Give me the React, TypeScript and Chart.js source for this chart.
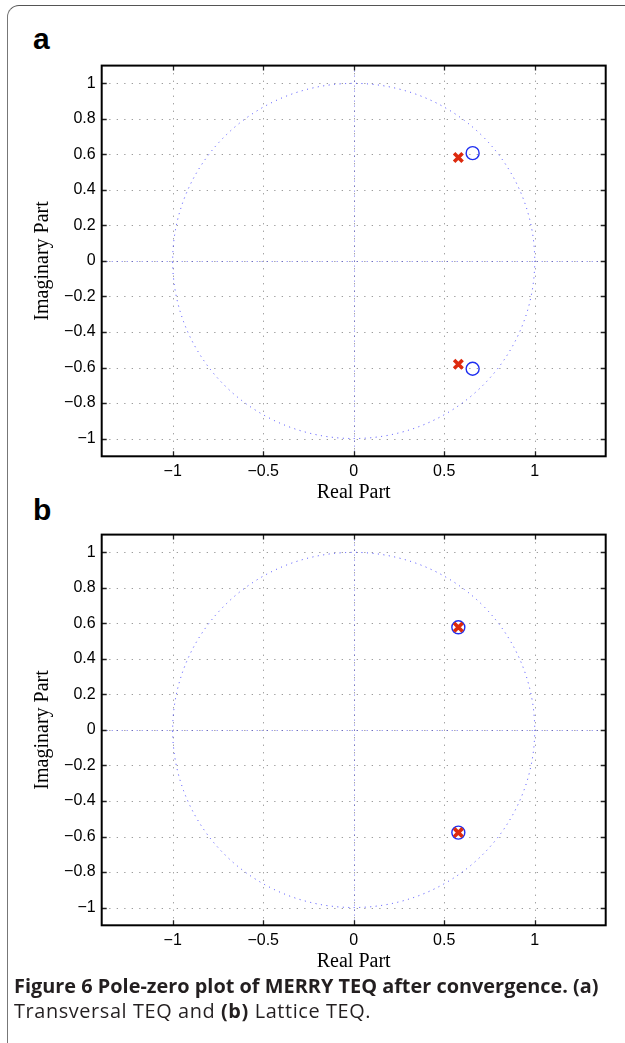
import React, { useEffect, useRef } from "react";
import { Chart, registerables } from "chart.js";

Chart.register(...registerables);

// ---- data ----
const xTickValues = [-1, -0.5, 0, 0.5, 1];
const xTickLabels = ["\u22121", "\u22120.5", "0", "0.5", "1"];
const yTickValues = [-1, -0.8, -0.6, -0.4, -0.2, 0, 0.2, 0.4, 0.6, 0.8, 1];
const yTickLabels = ["\u22121", "\u22120.8", "\u22120.6", "\u22120.4", "\u22120.2", "0", "0.2", "0.4", "0.6", "0.8", "1"];
const xLimits = [-1.392, 1.392];
const yLimits = [-1.1, 1.1];
const unitCircleRadius = 1;

// panel (a): transversal TEQ
const polesARe = [0.578, 0.578];
const polesAIm = [0.582, -0.582];
const zerosARe = [0.657, 0.657];
const zerosAIm = [0.607, -0.607];

// panel (b): lattice TEQ
const polesBRe = [0.578, 0.578];
const polesBIm = [0.578, -0.578];
const zerosBRe = [0.578, 0.578];
const zerosBIm = [0.578, -0.578];

const xTitle = "Real Part";
const yTitle = "Imaginary Part";

function labelFor(values: number[], labels: string[], v: number) {
  const i = values.findIndex((t) => Math.abs(t - v) < 1e-9);
  return i >= 0 ? labels[i] : "";
}

const pzPlugin = {
  id: "pzDecor",
  beforeDatasetsDraw(chart: any) {
    const { ctx, chartArea: a, scales } = chart;
    const x = scales.x;
    const y = scales.y;
    ctx.save();
    ctx.beginPath();
    ctx.rect(a.left, a.top, a.right - a.left, a.bottom - a.top);
    ctx.clip();
    // grid
    ctx.strokeStyle = "#9c9c9c";
    ctx.lineWidth = 1;
    ctx.setLineDash([1.3, 6.2]);
    for (const t of x.ticks) {
      const px = Math.round(x.getPixelForValue(t.value)) + 0.5;
      ctx.beginPath();
      ctx.moveTo(px, a.top);
      ctx.lineTo(px, a.bottom);
      ctx.stroke();
    }
    for (const t of y.ticks) {
      const py = Math.round(y.getPixelForValue(t.value)) + 0.5;
      ctx.beginPath();
      ctx.moveTo(a.left, py);
      ctx.lineTo(a.right, py);
      ctx.stroke();
    }
    // zero axes lines
    ctx.strokeStyle = "rgba(60,60,230,0.7)";
    ctx.setLineDash([1, 4]);
    const x0 = Math.round(x.getPixelForValue(0)) + 0.5;
    const y0 = Math.round(y.getPixelForValue(0)) + 0.5;
    ctx.beginPath();
    ctx.moveTo(x0, a.top);
    ctx.lineTo(x0, a.bottom);
    ctx.stroke();
    ctx.beginPath();
    ctx.moveTo(a.left, y0);
    ctx.lineTo(a.right, y0);
    ctx.stroke();
    // unit circle
    const cx = x.getPixelForValue(0);
    const cy = y.getPixelForValue(0);
    const rx = x.getPixelForValue(unitCircleRadius) - cx;
    const ry = cy - y.getPixelForValue(unitCircleRadius);
    ctx.strokeStyle = "rgba(40,40,255,0.85)";
    ctx.setLineDash([1, 4.5]);
    ctx.beginPath();
    ctx.ellipse(cx, cy, rx, ry, 0, 0, Math.PI * 2);
    ctx.stroke();
    ctx.restore();
  },
  afterDraw(chart: any) {
    const { ctx, chartArea: a, scales } = chart;
    const x = scales.x;
    const y = scales.y;
    ctx.save();
    ctx.setLineDash([]);
    ctx.strokeStyle = "#222";
    ctx.lineWidth = 1.3;
    const tl = 5;
    for (const t of x.ticks) {
      const px = Math.round(x.getPixelForValue(t.value)) + 0.5;
      ctx.beginPath();
      ctx.moveTo(px, a.bottom);
      ctx.lineTo(px, a.bottom - tl);
      ctx.moveTo(px, a.top);
      ctx.lineTo(px, a.top + tl);
      ctx.stroke();
    }
    for (const t of y.ticks) {
      const py = Math.round(y.getPixelForValue(t.value)) + 0.5;
      ctx.beginPath();
      ctx.moveTo(a.left, py);
      ctx.lineTo(a.left + tl, py);
      ctx.moveTo(a.right, py);
      ctx.lineTo(a.right - tl, py);
      ctx.stroke();
    }
    ctx.strokeStyle = "#000";
    ctx.lineWidth = 2;
    ctx.strokeRect(a.left, a.top, a.right - a.left, a.bottom - a.top);
    ctx.restore();
  },
};

function PZChart(props: {
  polesRe: number[];
  polesIm: number[];
  zerosRe: number[];
  zerosIm: number[];
  top: number;
}) {
  const ref = useRef<HTMLCanvasElement | null>(null);
  useEffect(() => {
    if (!ref.current) return;
    const poles = props.polesRe.map((r, i) => ({ x: r, y: props.polesIm[i] }));
    const zeros = props.zerosRe.map((r, i) => ({ x: r, y: props.zerosIm[i] }));
    const tickFont = { family: "'Liberation Sans', Arial, sans-serif", size: 16 };
    const titleFont = { family: "'Liberation Serif', 'Times New Roman', serif", size: 20 };
    const chart = new Chart(ref.current, {
      type: "scatter",
      data: {
        datasets: [
          {
            label: "Poles",
            data: poles,
            pointStyle: "crossRot",
            pointRadius: 6,
            borderColor: "#dd2a0e",
            borderWidth: 3.6,
            backgroundColor: "#dd2a0e",
          },
          {
            label: "Zeros",
            data: zeros,
            pointStyle: "circle",
            pointRadius: 6.5,
            borderColor: "#1f2ff0",
            borderWidth: 1.4,
            backgroundColor: "rgba(0,0,0,0)",
          },
        ],
      },
      options: {
        animation: false,
        responsive: false,
        maintainAspectRatio: false,
        layout: { padding: { top: 9, right: 19.3, left: 0, bottom: 0 } },
        plugins: { legend: { display: false }, tooltip: { enabled: false } },
        scales: {
          x: {
            type: "linear",
            min: xLimits[0],
            max: xLimits[1],
            grid: { display: false, drawTicks: false },
            border: { display: false },
            afterBuildTicks: (s: any) => {
              s.ticks = xTickValues.map((v) => ({ value: v }));
            },
            afterFit: (s: any) => {
              s.height = 53.7;
            },
            ticks: {
              autoSkip: false,
              maxRotation: 0,
              padding: 6,
              color: "#000",
              font: tickFont,
              callback: (v: any) => labelFor(xTickValues, xTickLabels, Number(v)),
            },
            title: {
              display: true,
              text: xTitle,
              color: "#000",
              font: titleFont,
              padding: { top: 0, bottom: 5.7 },
            },
          },
          y: {
            type: "linear",
            min: yLimits[0],
            max: yLimits[1],
            grid: { display: false, drawTicks: false },
            border: { display: false },
            afterBuildTicks: (s: any) => {
              s.ticks = yTickValues.map((v) => ({ value: v }));
            },
            afterFit: (s: any) => {
              s.width = 101.7;
            },
            ticks: {
              autoSkip: false,
              padding: 6,
              color: "#000",
              font: tickFont,
              callback: (v: any) => labelFor(yTickValues, yTickLabels, Number(v)),
            },
            title: {
              display: true,
              text: yTitle,
              color: "#000",
              font: titleFont,
              padding: { top: 30.5, bottom: 0 },
            },
          },
        },
      } as any,
      plugins: [pzPlugin],
    });
    return () => chart.destroy();
  }, []);
  return (
    <canvas
      ref={ref}
      width={625}
      height={460}
      style={{ position: "absolute", left: 0, top: props.top, width: 625, height: 460 }}
    />
  );
}

export default function App() {
  const panelLabel: React.CSSProperties = {
    position: "absolute",
    left: 33,
    fontFamily: "'Liberation Sans', Arial, sans-serif",
    fontWeight: 700,
    fontSize: 30,
    lineHeight: "30px",
    color: "#000",
  };
  return (
    <div
      style={{
        position: "absolute",
        left: 0,
        top: 0,
        width: 625,
        height: 1043,
        overflow: "hidden",
        background: "#fff",
      }}
    >
      <div
        style={{
          position: "absolute",
          left: 7,
          top: 5,
          width: 700,
          height: 1100,
          borderTop: "1.5px solid #555",
          borderLeft: "1.5px solid #777",
          borderTopLeftRadius: 12,
        }}
      />
      <div style={{ ...panelLabel, top: 23.6 }}>a</div>
      <div style={{ ...panelLabel, top: 494.6 }}>b</div>
      <PZChart polesRe={polesARe} polesIm={polesAIm} zerosRe={zerosARe} zerosIm={zerosAIm} top={50} />
      <PZChart polesRe={polesBRe} polesIm={polesBIm} zerosRe={zerosBRe} zerosIm={zerosBIm} top={518.7} />
      <div
        style={{
          position: "absolute",
          left: 14,
          top: 973,
          width: 611,
          fontFamily: "'Open Sans', 'Noto Sans', sans-serif",
          color: "#231f20",
          fontSize: 19.9,
          lineHeight: "25px",
          whiteSpace: "nowrap",
        }}
      >
        <div style={{ fontWeight: 700, letterSpacing: 0 }}>
          Figure 6 Pole-zero plot of MERRY TEQ after convergence. (a)
        </div>
        <div style={{ fontWeight: 400, letterSpacing: 0.6 }}>
          Transversal TEQ and <b>(b)</b> Lattice TEQ.
        </div>
      </div>
    </div>
  );
}
